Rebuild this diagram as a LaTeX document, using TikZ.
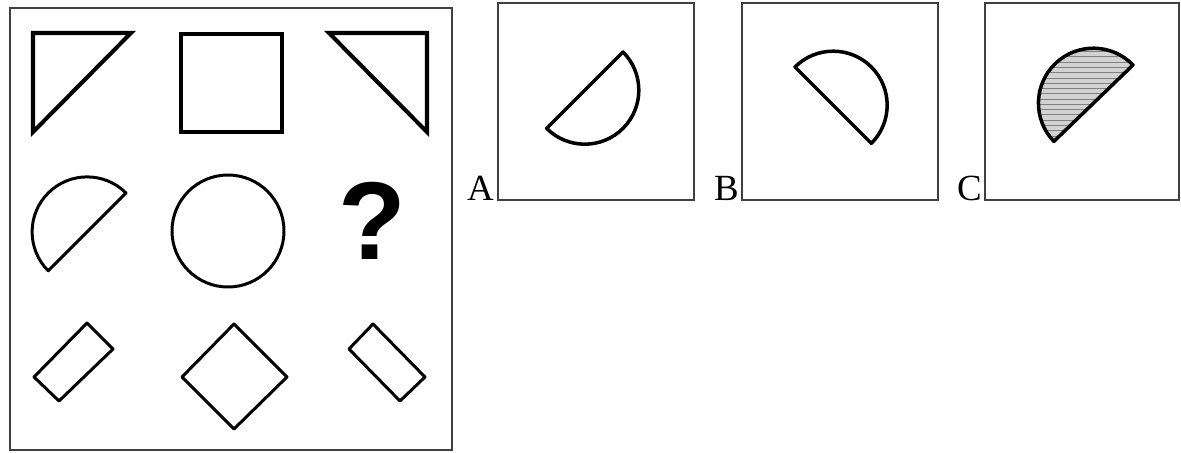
\documentclass[tikz,border=0pt]{standalone}
\usepackage{fontspec}
\setmainfont{Liberation Serif}
\newfontfamily\qfont{Liberation Sans}
\usetikzlibrary{patterns}

\begin{document}
\begin{tikzpicture}[x=0.02cm,y=-0.02cm,
			frame/.style={draw=black!75,line width=1.1pt},
			thickfig/.style={draw,line width=2.3pt,line join=miter},
			fig/.style={draw,line width=1.7pt,line join=round},
			optfig/.style={draw,line width=2pt,line join=round},
			optlabel/.style={font=\fontsize{21}{21}\selectfont,anchor=base east,inner sep=0pt}
			]
			\useasboundingbox (0,0) rectangle (1181,453);
			% big box with the 3x3 grid
			\draw[frame] (10,8) rectangle (452,450);
			%%%%%%%%%%%%%%% top row
			\draw[thickfig] (33,33) -- (131,33) -- (33,132) -- cycle;
			\draw[thickfig] (181,34) rectangle (282,132);
			\draw[thickfig] (329,33) -- (427,33) -- (427,132) -- cycle;
			%%%%%%%%%%%%%%% middle row
			\draw[fig] (126,193) arc[start angle=-45,end angle=-225,radius=55] -- cycle;
			\draw[fig] (228,231) circle[radius=56];
			\node[font=\qfont\bfseries\fontsize{63}{63}\selectfont,inner sep=0pt] (qm) at (372,221) {?};
			%%%%%%%%%%%%%%% bottom row
			\draw[fig] (87,323) -- (113,349) -- (59,401) -- (34,377) -- cycle;
			\draw[fig] (234,324) -- (287,377) -- (234,429) -- (182,377) -- cycle;
			\draw[fig] (373,324) -- (349,349) -- (400,401) -- (425,377) -- cycle;
			%%%%%%%%%%%%%%% answer boxes
			\draw[frame] (498,3) rectangle (694,200);
			\draw[frame] (742,3) rectangle (938,200);
			\draw[frame] (985,3) rectangle (1179,200);
			\node[optlabel] (la) at (494,200) {A};
			\node[optlabel] (lb) at (739,200) {B};
			\node[optlabel] (lc) at (982,200) {C};
			% half discs
			\draw[optfig] (623,52) arc[start angle=-45,end angle=135,radius=54] -- cycle;
			\draw[optfig] (795,67) arc[start angle=-135,end angle=45,radius=54] -- cycle;
			\fill[gray!35] (1133,65) arc[start angle=-44,end angle=-224,radius=55] -- cycle;
			\fill[pattern=horizontal lines,pattern color=gray] (1133,65) arc[start angle=-44,end angle=-224,radius=55] -- cycle;
			\draw[optfig] (1133,65) arc[start angle=-44,end angle=-224,radius=55] -- cycle;
		\end{tikzpicture}
\end{document}
